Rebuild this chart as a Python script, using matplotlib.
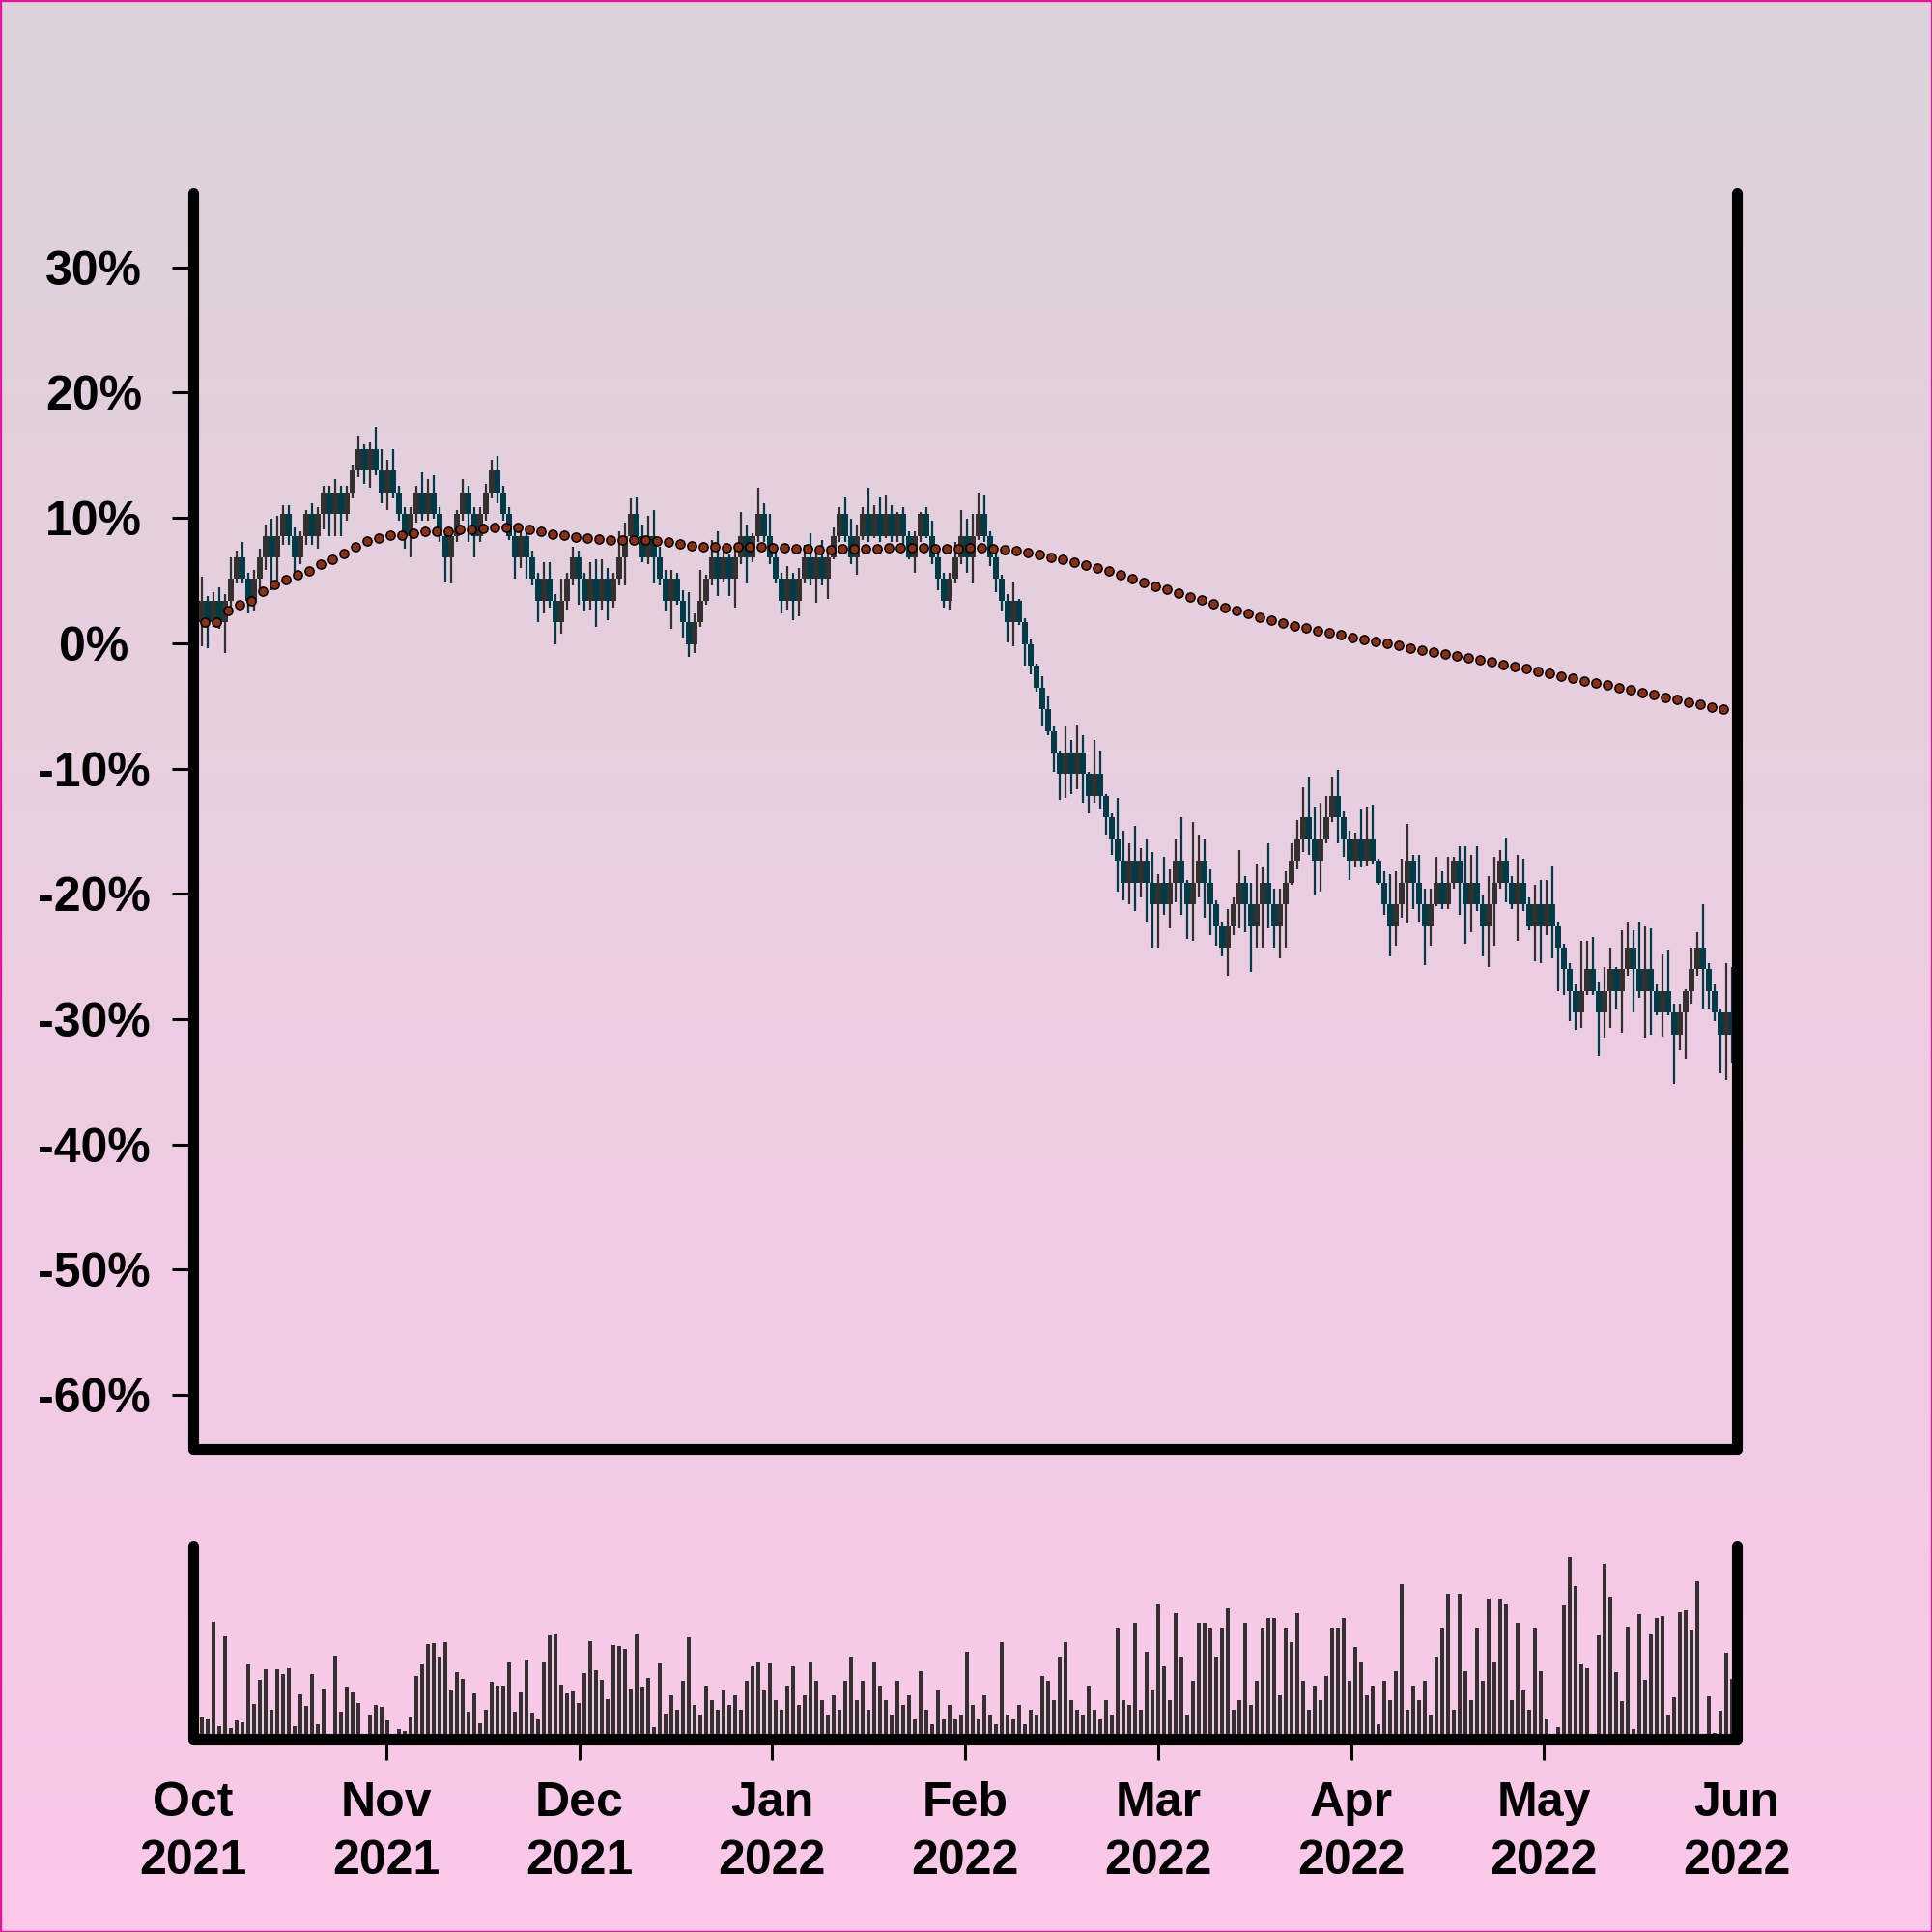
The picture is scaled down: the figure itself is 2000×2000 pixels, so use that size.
import numpy as np
import matplotlib
matplotlib.use("Agg")
import matplotlib.pyplot as plt
from matplotlib.patches import Rectangle

plt.rcParams['font.family'] = ['Liberation Sans', 'DejaVu Sans']

# price moves on a grid of ticks: percent = base_pct + tick_pct * level
base_pct = 1.65
tick_pct = 1.73

# close level of every session (open = previous close)
close_lvl = [1, 0, 1, 0, 1, 2, 3, 2, 1, 2, 3, 4, 3, 4, 5, 4, 3, 4, 5, 4,
             5, 6, 5, 6, 5, 6, 7, 8, 7, 8, 7, 6, 7, 6, 5, 4, 5, 6, 5, 6,
             5, 4, 3, 4, 5, 6, 5, 4, 5, 6, 7, 6, 5, 4, 3, 4, 3, 2, 1, 2,
             1, 0, 1, 2, 3, 2, 1, 2, 1, 2, 1, 2, 3,
             4, 5, 4, 3, 4, 3, 2, 1, 2, 1, 0, -1, 0, 1, 2, 3, 2, 3, 2, 3,
             4, 3, 4, 5, 4, 3, 2, 1, 2, 1, 2, 3, 2, 3, 2, 3, 4, 5, 4, 3,
             4, 5, 4, 5, 4, 5, 4, 5, 4, 3, 4, 5, 4, 3, 2, 1, 2, 3, 4, 3,
             4, 5, 4, 3, 2, 1, 0, 1, 0, -1, -2, -3,
             -4, -5, -6, -7, -6, -7, -6, -7, -8, -7, -8, -9, -10, -11, -12, -11, -12, -11, -12, -13,
             -12, -13, -12, -11, -12, -13, -12, -11, -12, -13, -14, -15, -14, -13, -12, -13, -14, -13, -12, -13,
             -14, -13, -12, -11, -10, -9, -10, -11, -10, -9, -8, -9, -10, -11, -10, -11, -10, -11, -12, -13,
             -14, -13, -12, -11, -12, -13, -14, -13, -12, -13, -12, -11, -12, -13, -12, -13, -14, -13, -12, -11,
             -12, -13, -12, -13, -14, -13, -14, -13, -14, -15, -16, -17, -18, -17, -16, -17, -18, -17, -16, -17,
             -16, -15, -16, -17, -16, -17, -18, -17, -18, -19, -18, -17, -16, -15, -16, -17, -18, -19, -18, -19]

# wick length above / below the body, tenths of a tick
up_wick = [11, 2, 4, 6, 3, 10, 3, 7, 3, 4, 4, 5, 8, 9, 4, 4, 4, 2, 2, 5,
           3, 3, 3, 6, 3, 3, 3, 6, 2, 3, 10, 10, 5, 10, 3, 3, 3, 3, 9, 6,
           8, 3, 3, 4, 2, 6, 3, 3, 3, 4, 5, 7, 3, 3, 3, 3, 3, 3, 3, 8,
           8, 3, 10, 3, 5, 3, 3, 8, 9, 9, 5, 3, 12,
           6, 7, 8, 5, 9, 12, 5, 4, 4, 3, 5, 14, 4, 14, 2, 8, 12, 3, 2, 5,
           11, 5, 1, 12, 5, 10, 3, 3, 6, 3, 5, 6, 11, 3, 8, 5, 4, 3, 8, 8,
           5, 3, 12, 4, 8, 9, 4, 1, 3, 2, 2, 1, 3, 7, 2, 3, 3, 7, 12, 8,
           10, 10, 9, 2, 2, 2, 3, 9, 1, 2, 2, 1,
           5, 6, 2, 1, 12, 6, 13, 8, 1, 16, 11, 1, 2, 19, 14, 8, 16, 6, 10, 14,
           4, 12, 6, 10, 20, 1, 28, 12, 10, 6, 2, 2, 8, 3, 15, 3, 10, 19, 7, 18,
           7, 7, 5, 8, 9, 14, 19, 15, 17, 10, 9, 12, 3, 4, 3, 14, 15, 16, 1, 5,
           14, 15, 11, 17, 3, 13, 7, 7, 12, 5, 12, 2, 7, 17, 13, 17, 4, 13, 12, 5,
           11, 3, 13, 11, 3, 9, 11, 11, 18, 2, 2, 3, 3, 23, 13, 15, 4, 11, 10, 1,
           18, 12, 8, 22, 20, 19, 3, 17, 19, 4, 4, 1, 10, 7, 20, 3, 3, 2, 23, 21]
dn_wick = [11, 12, 2, 3, 14, 4, 2, 2, 6, 5, 5, 6, 15, 12, 4, 4, 10, 3, 4, 4,
           6, 7, 10, 10, 10, 3, 3, 3, 6, 8, 2, 5, 8, 3, 3, 6, 10, 4, 3, 3,
           2, 3, 11, 12, 3, 3, 13, 10, 3, 3, 3, 5, 3, 2, 10, 5, 10, 3, 10, 6,
           3, 10, 5, 4, 3, 12, 5, 4, 12, 4, 9, 3, 3,
           13, 3, 3, 2, 3, 12, 3, 5, 13, 2, 7, 6, 4, 2, 2, 3, 8, 1, 8, 13,
           3, 12, 2, 3, 3, 3, 2, 6, 4, 9, 7, 2, 3, 11, 3, 9, 1, 3, 3, 3,
           8, 2, 3, 1, 3, 1, 3, 3, 7, 1, 7, 3, 1, 3, 5, 3, 4, 2, 3, 7,
           12, 2, 3, 4, 6, 5, 9, 11, 1, 10, 4, 2,
           8, 2, 9, 12, 11, 9, 7, 13, 8, 3, 6, 8, 7, 14, 8, 10, 13, 7, 18, 20,
           20, 5, 11, 9, 15, 16, 17, 7, 16, 14, 9, 4, 13, 4, 11, 13, 21, 10, 20, 11,
           10, 15, 20, 1, 4, 6, 7, 16, 14, 2, 2, 12, 8, 9, 3, 3, 2, 1, 1, 5,
           14, 9, 6, 19, 12, 8, 18, 9, 1, 2, 2, 3, 15, 18, 13, 3, 14, 19, 19, 3,
           9, 2, 17, 3, 2, 16, 17, 4, 15, 20, 12, 14, 8, 7, 2, 2, 20, 12, 17, 8,
           19, 3, 20, 3, 22, 20, 1, 11, 1, 23, 7, 21, 6, 3, 18, 8, 4, 18, 21, 13]

volume = [22.7, 20.7, 120.7, 13.3, 106, 11, 19.3, 16.7, 76.7, 35.7, 61.3, 72.3, 29.7, 72.3, 67.3, 73.3,
          13, 46, 34.3, 67, 15, 52, 1, 86, 27.7, 54, 48, 37, 1, 24.7, 35, 32.7, 19, 1, 10, 8, 23.3,
          65, 76.7, 97.7, 99, 85, 100, 51, 68.7, 62.3, 27.7, 46.7, 16, 29.7, 58.7, 54.7, 54.7, 78.7,
          27.7, 47.7, 82, 26.7, 20, 80, 107, 109, 56, 46.7, 48.7, 37, 67.7, 101, 70.7, 61, 40.7, 97,
          95.7, 93.3, 51.7, 107.7, 54, 62.7, 11.7, 77.7, 25.7,
          45, 30, 60, 105, 35, 25, 55, 40, 30, 50, 35, 45, 30, 60, 75, 80, 50, 78, 40, 30,
          55, 75, 35, 45, 80, 60, 40, 25, 45, 30, 60, 85, 40, 60, 30, 80, 55, 40, 25, 60,
          35, 45, 20, 70, 30, 15, 50, 20, 35, 20, 25, 90, 35, 20, 45, 25, 15, 100, 25, 20,
          35, 15, 30, 25, 65, 60, 40, 85, 100, 40, 30, 25, 55, 30, 20, 40, 25, 115, 40, 35,
          120, 30, 90, 50, 140, 75, 40, 130, 85, 25, 60, 120, 120, 115, 85, 115, 135, 30, 40, 120,
          35, 60, 115, 125, 125, 45, 115, 100, 130, 60, 30, 55, 40, 65, 115, 115, 125, 60, 95, 80,
          45, 55, 15, 60, 40, 70, 160, 30, 55, 40, 60, 25, 85, 115, 150, 30, 150, 70, 40, 115,
          60, 145, 80, 145, 140, 40, 120, 50, 30, 115, 70,
          21, 5, 12, 138, 188, 158.3, 77, 73, 5, 106.7, 181, 146.7, 69, 38.7, 116, 10, 128.7,
          61.3, 108, 125, 127, 25, 43, 131, 133.3, 112.7, 163, 4.3, 44, 5.7, 29.3, 89, 62]

# slow average, one dot every second session
ma_pct = [1.70, 1.70, 2.57, 3.03, 3.41, 4.14, 4.70, 5.09, 5.47, 5.76, 6.30, 6.71, 7.12, 7.66,
          8.15, 8.41, 8.58, 8.61, 8.77, 8.92, 8.92, 8.89, 9.05, 9.05, 9.15, 9.25, 9.23, 9.20,
          9.07, 8.94, 8.69, 8.61, 8.48, 8.40, 8.30, 8.23,
          8.23, 8.25, 8.25, 8.17, 8.07, 7.92, 7.76, 7.71, 7.66, 7.61, 7.66, 7.66, 7.68, 7.63,
          7.61, 7.55, 7.50, 7.45, 7.48, 7.50, 7.50, 7.56,
          7.53, 7.58, 7.58, 7.58, 7.61, 7.56, 7.53, 7.56, 7.58, 7.58, 7.53, 7.45, 7.38, 7.25,
          7.05, 6.86, 6.68, 6.48, 6.22, 6.01, 5.73, 5.42, 5.14, 4.83, 4.55, 4.26, 3.98, 3.72,
          3.44, 3.16, 2.87, 2.59, 2.39,
          2.07, 1.85, 1.62, 1.40, 1.21, 1.02, 0.83, 0.65, 0.45, 0.29, 0.14, -0.01, -0.20, -0.39,
          -0.56, -0.71, -0.86, -1.01, -1.16, -1.31, -1.49, -1.68, -1.87, -2.06, -2.25, -2.44,
          -2.62, -2.81, -3.00, -3.19, -3.37, -3.55, -3.74, -3.93, -4.12, -4.31, -4.50, -4.70,
          -4.89, -5.08, -5.27]

months = ['Oct\n2021', 'Nov\n2021', 'Dec\n2021', 'Jan\n2022', 'Feb\n2022',
          'Mar\n2022', 'Apr\n2022', 'May\n2022', 'Jun\n2022']
pct_ticks = [30, 20, 10, 0, -10, -20, -30, -40, -50, -60]

n = len(close_lvl)
x = np.arange(n)
close = base_pct + tick_pct * np.array(close_lvl)
opens = np.r_[base_pct, close[:-1]]
high = np.maximum(opens, close) + tick_pct * np.array(up_wick) / 10
low = np.minimum(opens, close) - tick_pct * np.array(dn_wick) / 10
cols = np.where(close > opens, '#333030', '#003b47')

fig = plt.figure(figsize=(10, 10), dpi=200)

# background gradient
bg = fig.add_axes([0, 0, 1, 1], zorder=-10)
top = np.array([220, 210, 218]) / 255
bot = np.array([251, 200, 233]) / 255
t = np.linspace(0, 1, 256)[:, None, None]
bg.imshow(top + t * (bot - top), aspect='auto', extent=[0, 1, 0, 1])
bg.axis('off')
fig.patches.append(Rectangle((0, 0), 1, 1, transform=fig.transFigure, fill=False,
                             edgecolor='#e8139c', linewidth=1.2))

xlim = (-1.47, 264.8)

ax = fig.add_axes([0.1, 0.25, 0.799, 0.65], facecolor='none')
ax.vlines(x, low, high, colors=cols, linewidth=0.8, zorder=1.8)
ax.bar(x, close - opens, bottom=opens, width=1.0, color=cols, linewidth=0, zorder=1.9)
ma_x = 0.5 + 2 * np.arange(len(ma_pct))
ax.plot(ma_x, ma_pct, 'o', ms=3.3, mfc='#8b3014', mec='black', mew=0.55, zorder=2.1)
ax.set_xlim(xlim)
ax.set_ylim(-64.3, 35.9)
ax.set_yticks(pct_ticks)
ax.set_yticklabels([f'{v}%' for v in pct_ticks])
ax.tick_params(axis='y', length=8, width=1.1, pad=29, labelsize=18)
ax.tick_params(axis='x', bottom=False, labelbottom=False)
for lab in ax.get_yticklabels():
    lab.set_horizontalalignment('center')
    lab.set_fontweight('bold')

ax2 = fig.add_axes([0.1, 0.1, 0.799, 0.1], facecolor='none')
ax2.bar(x, volume, width=0.65, color='#333030', linewidth=0)
ax2.set_xlim(xlim)
ax2.set_ylim(0, 200)
ax2.set_yticks([])
ax2.set_xticks(np.linspace(xlim[0], xlim[1], len(months)))
ax2.set_xticklabels(months, fontsize=18, fontweight='bold', linespacing=1.38)
ax2.tick_params(axis='x', length=8, width=1.1, pad=8)
# the end ticks sit under the spines, none shows in the original
xt = ax2.xaxis.get_major_ticks()
xt[0].tick1line.set_visible(False)
xt[-1].tick1line.set_visible(False)

for a in (ax, ax2):
    a.spines['top'].set_visible(False)
    for s in ('left', 'right', 'bottom'):
        a.spines[s].set_linewidth(4)
        a.spines[s].set_capstyle('round')

fig.savefig('out.png', dpi=200)
